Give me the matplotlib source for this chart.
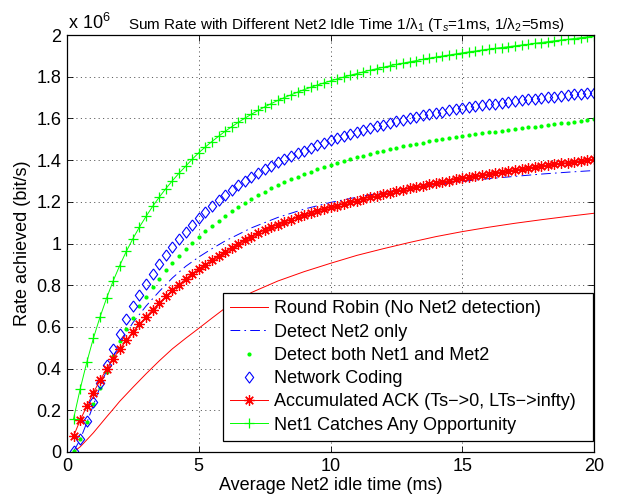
import numpy as np
import matplotlib
matplotlib.use("Agg")
import matplotlib.pyplot as plt
from matplotlib.path import Path

plt.rcParams['font.family'] = ['Liberation Sans', 'DejaVu Sans']
plt.rcParams['mathtext.fontset'] = 'custom'
plt.rcParams['mathtext.rm'] = 'Liberation Sans'
plt.rcParams['mathtext.it'] = 'Liberation Sans:italic'
plt.rcParams['lines.scale_dashes'] = False

# sample grid for the marker curves (ms)
x = np.arange(1, 81) * 0.25
# coarser grid for the plain lines
x_line = [0.25, 0.5, 0.75, 1, 1.25, 1.5, 1.75, 2, 2.5, 3, 3.5, 4, 4.5, 5, 5.5,
          6, 7, 8, 9, 10, 11, 12, 13, 14, 15, 16, 17, 18, 19, 20]

# rates in units of 1e6 bit/s
round_robin = [0.0, 0.025, 0.058, 0.092, 0.13, 0.168, 0.205, 0.243, 0.31, 0.375,
               0.437, 0.495, 0.545, 0.593, 0.642, 0.69, 0.765, 0.82, 0.865, 0.905,
               0.943, 0.975, 1.005, 1.033, 1.057, 1.078, 1.097, 1.114, 1.13, 1.145]

net2_only = [0.003, 0.06, 0.14, 0.225, 0.31, 0.39, 0.455, 0.52, 0.62, 0.70,
             0.77, 0.835, 0.89, 0.935, 0.975, 1.012, 1.075, 1.125, 1.165, 1.197,
             1.222, 1.245, 1.265, 1.283, 1.298, 1.311, 1.322, 1.333, 1.342, 1.35]

both_det = [0.003, 0.060, 0.142, 0.228, 0.308, 0.385, 0.460, 0.530, 0.590, 0.645,
            0.698, 0.745, 0.790, 0.831, 0.871, 0.908, 0.942, 0.974, 1.004, 1.032,
            1.060, 1.085, 1.110, 1.133, 1.155, 1.175, 1.195, 1.213, 1.231, 1.248,
            1.264, 1.279, 1.294, 1.307, 1.320, 1.333, 1.345, 1.356, 1.367, 1.377,
            1.387, 1.397, 1.406, 1.414, 1.422, 1.430, 1.438, 1.445, 1.452, 1.459,
            1.466, 1.472, 1.478, 1.484, 1.490, 1.495, 1.500, 1.505, 1.510, 1.515,
            1.520, 1.524, 1.529, 1.533, 1.537, 1.541, 1.545, 1.549, 1.553, 1.557,
            1.561, 1.564, 1.568, 1.572, 1.576, 1.580, 1.584, 1.588, 1.592, 1.596]

net_coding = [0.005, 0.060, 0.150, 0.240, 0.330, 0.415, 0.493, 0.568, 0.637, 0.700,
              0.755, 0.807, 0.856, 0.901, 0.943, 0.983, 1.020, 1.056, 1.089, 1.121,
              1.151, 1.180, 1.207, 1.233, 1.258, 1.279, 1.299, 1.318, 1.337, 1.355,
              1.372, 1.389, 1.404, 1.419, 1.433, 1.446, 1.459, 1.472, 1.484, 1.495,
              1.506, 1.516, 1.526, 1.535, 1.544, 1.553, 1.562, 1.570, 1.578, 1.586,
              1.593, 1.600, 1.607, 1.614, 1.620, 1.626, 1.632, 1.638, 1.643, 1.648,
              1.653, 1.658, 1.663, 1.667, 1.671, 1.675, 1.679, 1.683, 1.687, 1.691,
              1.695, 1.698, 1.702, 1.705, 1.709, 1.712, 1.715, 1.718, 1.721, 1.724]

acc_ack = [0.077, 0.152, 0.220, 0.284, 0.343, 0.397, 0.447, 0.493, 0.536, 0.576,
           0.613, 0.648, 0.682, 0.715, 0.746, 0.776, 0.803, 0.829, 0.853, 0.876,
           0.898, 0.919, 0.941, 0.961, 0.980, 0.998, 1.016, 1.033, 1.049, 1.064,
           1.078, 1.091, 1.103, 1.114, 1.125, 1.135, 1.145, 1.155, 1.164, 1.173,
           1.181, 1.190, 1.198, 1.206, 1.214, 1.222, 1.229, 1.237, 1.244, 1.251,
           1.258, 1.265, 1.271, 1.278, 1.284, 1.290, 1.296, 1.302, 1.308, 1.313,
           1.319, 1.324, 1.329, 1.334, 1.339, 1.344, 1.349, 1.354, 1.358, 1.363,
           1.367, 1.372, 1.376, 1.380, 1.384, 1.388, 1.392, 1.396, 1.400, 1.403]

any_opp = [0.160, 0.302, 0.430, 0.545, 0.646, 0.737, 0.820, 0.894, 0.962, 1.023,
           1.079, 1.130, 1.178, 1.222, 1.263, 1.301, 1.337, 1.370, 1.404, 1.435,
           1.463, 1.489, 1.514, 1.538, 1.560, 1.581, 1.601, 1.620, 1.638, 1.655,
           1.671, 1.686, 1.700, 1.713, 1.726, 1.738, 1.749, 1.760, 1.770, 1.780,
           1.789, 1.798, 1.807, 1.815, 1.823, 1.831, 1.838, 1.845, 1.852, 1.859,
           1.865, 1.871, 1.877, 1.883, 1.889, 1.894, 1.899, 1.904, 1.909, 1.914,
           1.919, 1.923, 1.928, 1.932, 1.936, 1.940, 1.944, 1.948, 1.952, 1.955,
           1.960, 1.964, 1.968, 1.972, 1.976, 1.979, 1.983, 1.987, 1.991, 1.995]

labels = ["Round Robin (No Net2 detection)", "Detect Net2 only",
          "Detect both Net1 and Met2", "Network Coding",
          "Accumulated ACK (Ts\u2212>0, LTs\u2212>infty)", "Net1 Catches Any Opportunity"]

# matlab-like diamond (a bit taller than wide) and 8-arm asterisk
diamond = Path([(0, 1), (0.75, 0), (0, -1), (-0.75, 0), (0, 1)])
asterisk = (8, 2, 0)

fig = plt.figure(figsize=(6.26, 5.01), dpi=100)
ax = fig.add_axes([67/626, 1 - 452/501, 527/626, 417/501])

ax.plot(x_line, round_robin, '-', color='red', lw=0.7, label=labels[0])
ax.plot(x_line, net2_only, color='blue', lw=0.7, dashes=(7, 3, 1.2, 3), label=labels[1])
ax.plot(x, both_det, linestyle='none', marker='.', ms=4, color=(0, 1, 0), label=labels[2])
ax.plot(x, net_coding, linestyle='none', marker=diamond, ms=8, mfc='none',
        mec='blue', mew=0.8, label=labels[3])
ax.plot(x, acc_ack, '-', color='red', lw=0.7, marker=asterisk, ms=7.5, mew=0.9, label=labels[4])
ax.plot(x, any_opp, '-', color=(0, 1, 0), lw=0.7, marker='+', ms=7.5, mew=0.9, label=labels[5])

ax.set_xlim(0, 20)
ax.set_ylim(0, 2)
ax.set_xticks([0, 5, 10, 15, 20])
ax.set_yticks(np.arange(0, 2.01, 0.2))
ax.set_yticklabels(['0', '0.2', '0.4', '0.6', '0.8', '1', '1.2', '1.4', '1.6', '1.8', '2'])
ax.tick_params(direction='in', length=4, width=0.6, top=True, right=True,
               labelsize=13, pad=4)
ax.grid(True, color='0.25', lw=0.6, dashes=(0.8, 2.4))
for s in ax.spines.values():
    s.set_linewidth(0.9)

ax.set_xlabel("Average Net2 idle time (ms)", fontsize=13, labelpad=2)
ax.set_ylabel("Rate achieved (bit/s)", fontsize=13, labelpad=4)

fig.text(68/626, 1 - 29/501, r"x 10$^{6}$", fontsize=13, ha='left', va='baseline')
fig.text(346/626, 1 - 29/501,
         "Sum Rate with Different Net2 Idle Time 1/\u03bb$_{1}$ (T$_{s}$=1ms, 1/\u03bb$_{2}$=5ms)",
         fontsize=11, ha='center', va='baseline')

# legend box: x 223..593 px, y 291..441 px
leg = ax.legend(loc='lower left',
                bbox_to_anchor=(223/626, 1 - 441/501, 370/626, 150/501),
                bbox_transform=fig.transFigure, mode='expand', borderaxespad=0,
                fontsize=13, fancybox=False, framealpha=1, edgecolor='black',
                numpoints=1, handlelength=2.1, handletextpad=0.3,
                labelspacing=0.35, borderpad=0.4)
leg.get_frame().set_linewidth(0.9)

plt.savefig("out.png", dpi=100)
